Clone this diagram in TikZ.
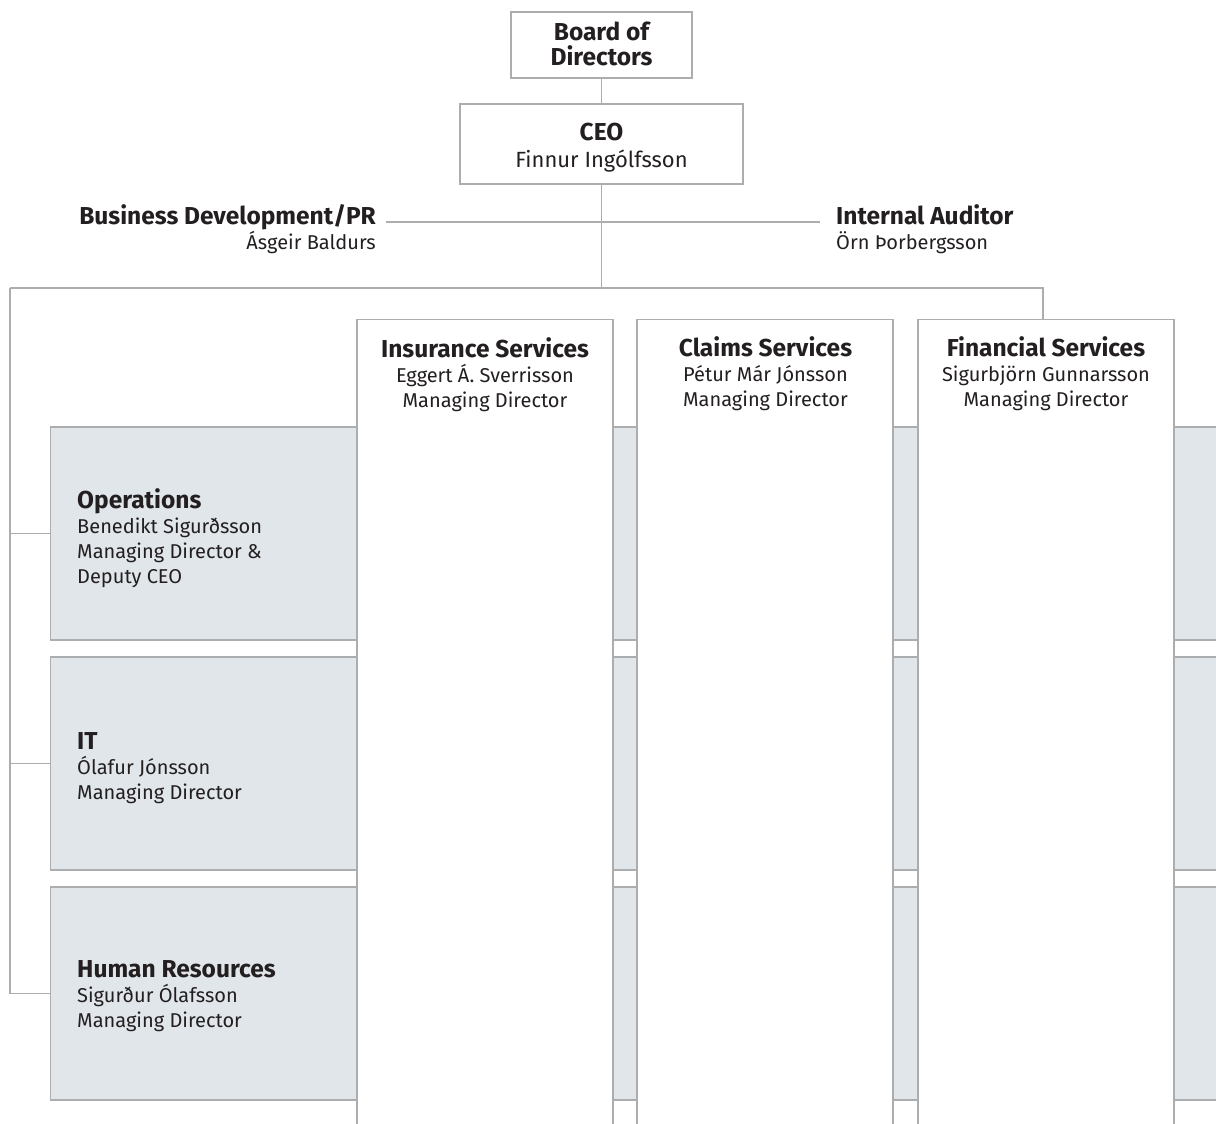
\documentclass[tikz,border=0pt]{standalone}
\usepackage{fontspec}
\setmainfont{Fira Sans}
\definecolor{linegray}{HTML}{ABADAF}
\definecolor{rowfill}{HTML}{E0E6EA}
\definecolor{ink}{HTML}{231F20}
\newcommand{\ttl}[1]{{\fontsize{24.5}{25}\selectfont\bfseries #1}}
\begin{document}
\begin{tikzpicture}[x=1pt,y=-1pt,
  every node/.style={text=ink},
  txt/.style={inner sep=0pt,font=\fontsize{20}{25}\selectfont},
  topbox/.style={draw=linegray,line width=1.2pt,fill=white,inner sep=0pt},
  colbox/.style={draw=linegray,line width=1.2pt,fill=white,inner sep=0pt,anchor=north,minimum width=256pt,minimum height=830pt},
  rowbox/.style={draw=linegray,line width=1.2pt,fill=rowfill,inner sep=0pt,anchor=west,minimum width=1200pt,minimum height=213pt},
  conn/.style={draw=linegray,line width=1.2pt}]
\useasboundingbox (0,0) rectangle (1216,1124);
\begin{scope}
\clip (0,0) rectangle (1216,1124);
% top boxes
\node[topbox,minimum width=181pt,minimum height=66pt] (board) at (601.5,45) {};
\node[txt,anchor=north,align=center] (boardt) at (601.5,21.5) {\ttl{Board of}\\\ttl{Directors}};
\node[topbox,minimum width=283pt,minimum height=80pt] (ceo) at (601.5,144) {};
\node[txt,anchor=north,align=center] (ceot) at (601.5,122.5) {\ttl{CEO}\\[2pt]{\fontsize{22}{27}\selectfont Finnur Ingólfsson}};
\draw[conn] (board.south) -- (ceo.north);
% staff
\node[txt,anchor=north east,align=right] (bd) at (376,204) {\ttl{Business Development/PR}\\Ásgeir Baldurs};
\node[txt,anchor=north west,align=left] (ia) at (836,204) {\ttl{Internal Auditor}\\Örn Þorbergsson};
\coordinate (bdL) at (386,222);
\coordinate (iaR) at (820,222);
\coordinate (bus) at (601.5,288);
\coordinate (busL) at (10,288);
\draw[conn] (bdL) -- (iaR);
\draw[conn] (ceo.south) -- (bus);
% rows
\node[rowbox] (ops) at (50,533.5) {};
\node[rowbox] (it) at (50,763.5) {};
\node[rowbox] (hr) at (50,993.5) {};
\node[txt,anchor=north west,align=left] (opst) at (77,488) {\ttl{Operations}\\Benedikt Sigurðsson\\Managing Director \&\\Deputy CEO};
\node[txt,anchor=north west,align=left] (itt) at (77,732) {\ttl{IT}\\Ólafur Jónsson\\Managing Director};
\node[txt,anchor=north west,align=left] (hrt) at (77,960) {\ttl{Human Resources}\\Sigurður Ólafsson\\Managing Director};
% columns
\node[colbox] (ins) at (485,319) {};
\node[colbox] (cla) at (765,319) {};
\node[colbox] (fin) at (1046,319) {};
\node[txt,anchor=north,align=center] (inst) at (485,337) {\ttl{Insurance Services}\\Eggert Á. Sverrisson\\Managing Director};
\node[txt,anchor=north,align=center] (clat) at (765.5,336) {\ttl{Claims Services}\\Pétur Már Jónsson\\Managing Director};
\node[txt,anchor=north,align=center] (fint) at (1046,336) {\ttl{Financial Services}\\Sigurbjörn Gunnarsson\\Managing Director};
% bus
\draw[conn] (busL) -- (1043,288) -- (1043,319);
\draw[conn] (busL) |- (ops.west);
\draw[conn] (busL) |- (it.west);
\draw[conn] (busL) |- (hr.west);
\end{scope}
\end{tikzpicture}
\end{document}
